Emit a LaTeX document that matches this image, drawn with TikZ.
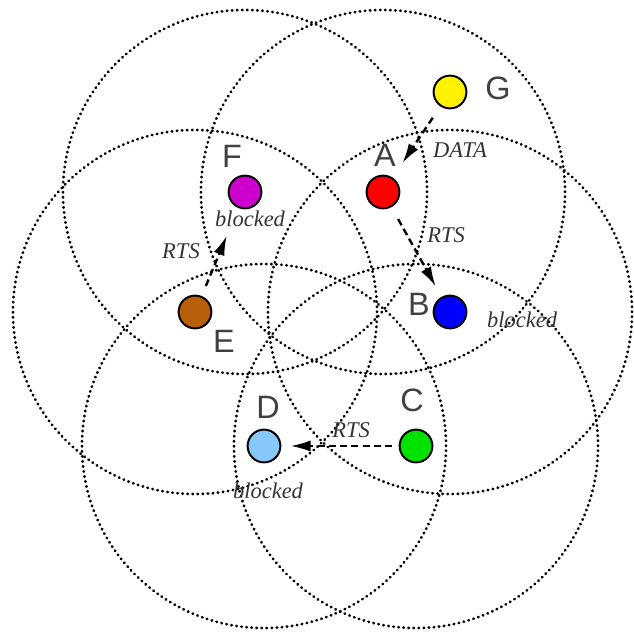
\documentclass[tikz,border=0pt]{standalone}
\usepackage{fontspec}
\setmainfont{Liberation Serif}
\setsansfont{Liberation Sans}
\usetikzlibrary{arrows.meta,backgrounds}

\definecolor{nodeF}{RGB}{205,0,205}
\definecolor{nodeE}{RGB}{185,95,10}
\definecolor{nodeD}{RGB}{135,200,250}
\definecolor{nodeC}{RGB}{0,225,0}

\begin{document}
\begin{tikzpicture}[
    x=0.025cm, y=-0.025cm,
    >={Latex[length=14pt,width=8pt]},
    station/.style={
        circle,
        draw,
        line width=1.4pt,
        minimum size=0.82cm,
        inner sep=0pt
    },
    reach/.style={
        line width=2pt,
        dash pattern=on 0.3pt off 3.3pt,
        line cap=round
    },
    msg/.style={
        ->,
        line width=1.7pt,
        dash pattern=on 5pt off 3pt
    },
    letter/.style={font=\sffamily\fontsize{23}{25}\selectfont, text=black!75, inner sep=0pt},
    note/.style={font=\itshape\fontsize{16}{18}\selectfont, text=black!80, inner sep=0pt}
]
\useasboundingbox (0,0) rectangle (633,636);

% stations
\node[station, fill=yellow] (G) at (450,92) {};
\node[station, fill=red] (A) at (383,192) {};
\node[station, fill=nodeF] (F) at (245,192) {};
\node[station, fill=nodeE] (E) at (195,312) {};
\node[station, fill=blue] (B) at (450,312) {};
\node[station, fill=nodeD] (D) at (264,446) {};
\node[station, fill=nodeC] (C) at (416,446) {};

% transmission ranges
\begin{scope}[on background layer]
\foreach \n in {A,B,C,D,E,F}
    \draw[reach] (\n) circle[radius=4.55cm];
\end{scope}

\node[letter] (labG) at (498,88) {G};
\node[letter] (labA) at (385,155) {A};
\node[letter] (labF) at (232,156) {F};
\node[letter] (labE) at (224,341) {E};
\node[letter] (labB) at (419,304) {B};
\node[letter] (labD) at (268,407) {D};
\node[letter] (labC) at (412,400) {C};

\draw[msg, shorten <=0.34cm, shorten >=0.44cm] (G) -- (A);
\draw[msg, shorten <=0.34cm, shorten >=0.3cm] (A) -- (B);
\draw[msg, shorten <=0.27cm, shorten >=0.75cm] (E) -- (F);
\draw[msg, line width=1.1pt, shorten <=0.16cm, shorten >=0.24cm] (C) -- (D);

\node[note] (data) at (460,150) {DATA};
\node[note] (rtsA) at (446,235) {RTS};
\node[note] (rtsE) at (181,251) {RTS};
\node[note] (rtsC) at (351,430) {RTS};
\node[note] (blkF) at (250,219) {blocked};
\node[note] (blkB) at (522,320) {blocked};
\node[note] (blkD) at (268,491) {blocked};

\end{tikzpicture}
\end{document}
